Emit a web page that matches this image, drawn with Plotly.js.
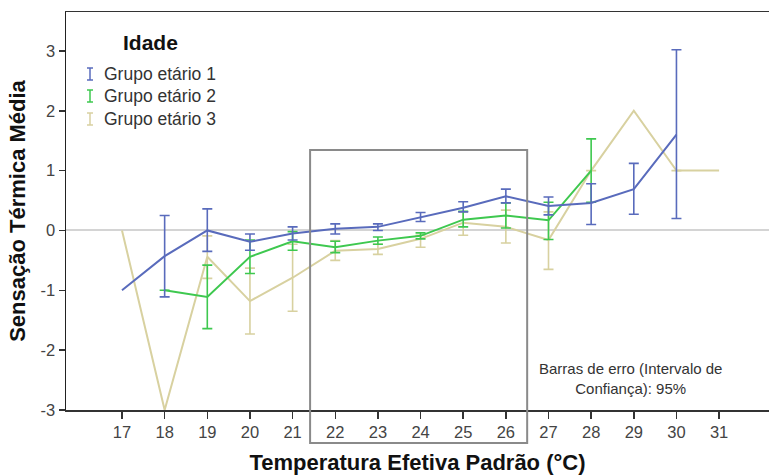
<!DOCTYPE html>
<html>
<head>
<meta charset="utf-8">
<script src="https://cdn.plot.ly/plotly-3.0.1.min.js"></script>
<style>html,body{margin:0;padding:0;background:#fff;}#chart{width:769px;height:475px;}</style>
</head>
<body>
<div id="chart"></div>
<script>
// Temperatura Efetiva Padrão (°C)
const temps = [17, 18, 19, 20, 21, 22, 23, 24, 25, 26, 27, 28, 29, 30, 31];
const tickLabels = ['17','18','19','20','21','22','23','24','25','26','27','28','29','30','31'];
const yTickVals = [-3, -2, -1, 0, 1, 2, 3];
const yTickLabels = ['-3', '-2', '-1', '0', '1', '2', '3'];
const seriesNames = ['Grupo etário 1', 'Grupo etário 2', 'Grupo etário 3'];
const N = NaN; // no error bar

// Grupo etário 1
const g1Mean  = [-1.00, -0.43, 0.00, -0.19, -0.05, 0.03, 0.06, 0.22, 0.38, 0.57, 0.41, 0.46, 0.69, 1.60, null];
const g1Upper = [N, 0.68, 0.36, 0.13, 0.11, 0.08, 0.05, 0.08, 0.10, 0.12, 0.15, 0.32, 0.43, 1.42, N];
const g1Lower = [N, 0.68, 0.35, 0.14, 0.11, 0.09, 0.06, 0.07, 0.07, 0.11, 0.15, 0.36, 0.42, 1.40, N];

// Grupo etário 2
const g2Mean  = [null, -1.00, -1.11, -0.44, -0.18, -0.28, -0.17, -0.09, 0.18, 0.25, 0.17, 1.00, null, null, null];
const g2Upper = [N, 0, 0.53, 0.28, 0.16, 0.10, 0.06, 0.05, 0.14, 0.21, 0.30, 0.53, N, N, N];
const g2Lower = [N, 0, 0.53, 0.28, 0.15, 0.09, 0.06, 0.05, 0.12, 0.21, 0.32, 0.53, N, N, N];

// Grupo etário 3
const g3Mean  = [0.00, -3.00, -0.44, -1.18, -0.79, -0.34, -0.31, -0.14, 0.13, 0.06, -0.16, 1.00, 2.00, 1.00, 1.00];
const g3Upper = [N, N, 0.35, 0.55, 0.56, 0.17, 0.08, 0.06, 0.18, 0.28, 0.47, 0, N, 0, N];
const g3Lower = [N, N, 0.36, 0.55, 0.56, 0.16, 0.09, 0.14, 0.21, 0.27, 0.49, 0, N, 0, N];

const colors = ['#596bbc', '#3ec84f', '#d8d1a0'];

const means = [g1Mean, g2Mean, g3Mean];
const uppers = [g1Upper, g2Upper, g3Upper];
const lowers = [g1Lower, g2Lower, g3Lower];

// draw order: yellow underneath, then green, then blue
const order = [2, 1, 0];
const traces = order.map(i => ({
  type: 'scatter',
  mode: 'lines',
  name: seriesNames[i],
  x: temps,
  y: means[i],
  connectgaps: false,
  line: {color: colors[i], width: 2},
  error_y: {
    type: 'data', symmetric: false,
    array: uppers[i], arrayminus: lowers[i],
    color: colors[i], thickness: 1.6, width: 5, visible: true
  },
  showlegend: false,
  hoverinfo: 'x+y'
}));

const FONT = 'Liberation Sans, Arial, sans-serif';

// legend drawn as error-bar icons + text
const legendX = 90, legendTextX = 102, legendY = [74, 96, 119];
const W = 769, H = 475, mL = 66, mR = 0, mT = 12, mB = 65;
const px = v => (v - mL) / (W - mL - mR);
const py = v => (H - mB - v) / (H - mT - mB);

const shapes = [];
const annotations = [];
seriesNames.forEach((name, i) => {
  const cy = legendY[i];
  const c = colors[i];
  shapes.push({type:'line', xref:'paper', yref:'paper', x0:px(legendX), x1:px(legendX), y0:py(cy-6), y1:py(cy+6), line:{color:c, width:1.5}});
  shapes.push({type:'line', xref:'paper', yref:'paper', x0:px(legendX-3), x1:px(legendX+3), y0:py(cy-6), y1:py(cy-6), line:{color:c, width:1.5}});
  shapes.push({type:'line', xref:'paper', yref:'paper', x0:px(legendX-3), x1:px(legendX+3), y0:py(cy+6), y1:py(cy+6), line:{color:c, width:1.5}});
  annotations.push({xref:'paper', yref:'paper', x:px(legendTextX), y:py(cy), xanchor:'left', yanchor:'middle', showarrow:false,
    text:name, font:{family:FONT, size:17.5, color:'#333'}});
});
annotations.push({xref:'paper', yref:'paper', x:px(150), y:py(43), xanchor:'center', yanchor:'middle', showarrow:false,
  text:'<b>Idade</b>', font:{family:FONT, size:21, color:'#111'}});
annotations.push({xref:'paper', yref:'paper', x:px(630), y:py(378), xanchor:'center', yanchor:'middle', showarrow:false,
  text:'Barras de erro (Intervalo de<br>Confiança): 95%', align:'center', font:{family:FONT, size:15, color:'#333'}});

// highlighted comfort region box (22–26 °C)
const boxX = [21.41, 26.5];
shapes.push({type:'rect', xref:'x', yref:'paper', x0:boxX[0], x1:boxX[1], y0:py(443), y1:py(150),
  line:{color:'#8a8a8a', width:2}, fillcolor:'rgba(0,0,0,0)', layer:'above'});

const layout = {
  width: W, height: H,
  margin: {l: mL, r: mR, t: mT, b: mB, pad: 0},
  paper_bgcolor: '#fff', plot_bgcolor: '#fff',
  font: {family: FONT, color: '#333'},
  showlegend: false,
  xaxis: {
    range: [15.687, 32.17], tickvals: temps, ticktext: tickLabels,
    showgrid: false, zeroline: false,
    showline: true, linecolor: '#333', linewidth: 1.5, mirror: true,
    ticks: 'outside', ticklen: 7, tickcolor: '#333', tickwidth: 1.5,
    tickfont: {family: FONT, size: 16.5, color: '#444'},
    title: {text: '<b>Temperatura Efetiva Padrão (°C)</b>', font: {family: FONT, size: 22, color: '#111'}, standoff: 15},
    automargin: false, fixedrange: true
  },
  yaxis: {
    range: [-3, 3.65], tickvals: yTickVals, ticktext: yTickLabels,
    showgrid: false,
    zeroline: true, zerolinecolor: '#d4d4d4', zerolinewidth: 2,
    showline: true, linecolor: '#222', linewidth: 1.5, mirror: false,
    ticks: 'outside', ticklen: 6, tickcolor: '#333', tickwidth: 1.5,
    tickfont: {family: FONT, size: 16.5, color: '#444'},
    title: {text: '<b>Sensação Térmica Média</b>', font: {family: FONT, size: 22, color: '#111'}, standoff: 9},
    automargin: false, fixedrange: true
  },
  shapes: shapes,
  annotations: annotations
};

Plotly.newPlot('chart', traces, layout, {displayModeBar: false, staticPlot: true});
</script>
</body>
</html>
